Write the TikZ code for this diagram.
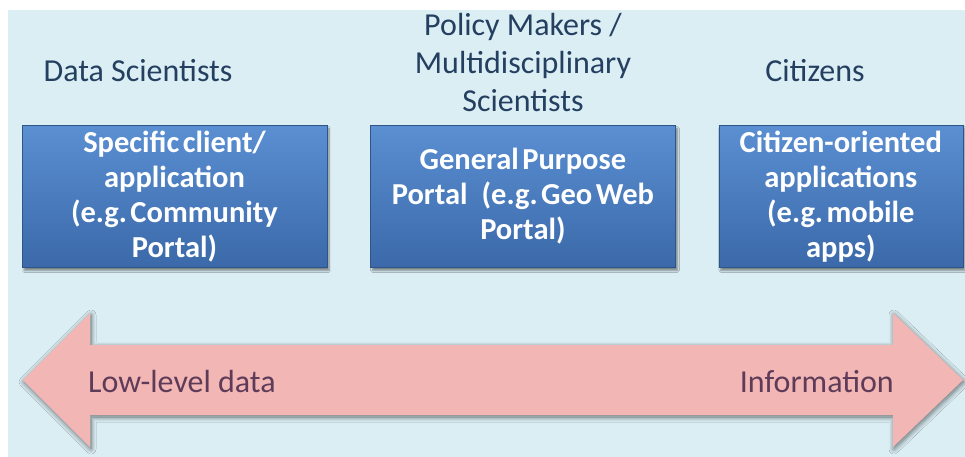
\documentclass[tikz,border=0pt]{standalone}
\usepackage{fontspec}
\setmainfont{Carlito}
\newfontfamily\portalfont[WordSpace=0.5]{Carlito}
\usetikzlibrary{positioning}
\usetikzlibrary{shadows.blur}

\definecolor{panelblue}{HTML}{DBEEF4}
\definecolor{boxtop}{HTML}{5A8FD2}
\definecolor{boxbottom}{HTML}{3B69A9}
\definecolor{arrowpink}{HTML}{F2B6B4}
\definecolor{labelblue}{HTML}{243F60}
\definecolor{arrowtext}{HTML}{5E3B58}

\begin{document}
\frenchspacing
\begin{tikzpicture}[
        x=1pt,
        y=-1pt,
        portal/.style={
            rectangle,
            top color=boxtop,
            bottom color=boxbottom,
            draw=boxbottom!80!black,
            thin,
            minimum width=305pt,
            minimum height=142pt,
            inner sep=0pt,
            align=center,
            text=white,
            font=\portalfont\fontsize{30.5}{35}\selectfont\bfseries,
            blur shadow={shadow xshift=2pt, shadow yshift=-3pt,
                shadow blur steps=8, shadow opacity=45},
        },
        audience/.style={
            text=labelblue,
            align=center,
            font=\fontsize{32}{38}\selectfont,
        },
        flowlabel/.style={
            text=arrowtext,
            inner sep=0pt,
            font=\fontsize{32}{38}\selectfont,
        },
        flowarrow/.style={
            fill=arrowpink,
            blur shadow={shadow xshift=1pt, shadow yshift=-2pt,
                shadow blur radius=5pt, shadow blur steps=10,
                shadow opacity=55},
        },
    ]
    \useasboundingbox (0, 0) rectangle (965, 457);
    \fill[white] (0, 0) rectangle (965, 457);
    \fill[panelblue] (8, 10) rectangle (965, 457);

    % Define the arrow outline.
    \coordinate (ltip) at (23, 380);
    \coordinate (rtip) at (963, 380);

    \coordinate (lhtop) at (90, 313);
    \coordinate (lhbot) at (90, 447);
    \coordinate (lstop) at (90, 345);
    \coordinate (lsbot) at (90, 415);

    \coordinate (rhtop) at (893, 313);
    \coordinate (rhbot) at (893, 447);
    \coordinate (rstop) at (893, 345);
    \coordinate (rsbot) at (893, 415);

    % Draw arrow.
    \path[flowarrow] (ltip) -- (lhtop) -- (lstop) -- (rstop) -- (rhtop)
        -- (rtip) -- (rhbot) -- (rsbot) -- (lsbot) -- (lhbot) -- cycle;

    \node[flowlabel, anchor=base west] (lowlevel) at (88, 392) {Low-level data};
    \node[flowlabel, anchor=base east] (info) at (894, 392) {Information};

    % Draw portals.
    \node[portal] (client) at (174.5, 196.5)
        {Specific client/\\application\\(e.g. Community\\Portal)};
    \node[portal, right=43pt of client] (general)
        {General Purpose\\Portal\hspace{0.35em} (e.g. Geo Web\\Portal)};
    \node[portal, minimum width=244pt, right=43pt of general] (citizen)
        {Citizen-oriented\\applications\\(e.g. mobile\\apps)};

    % Draw users.
    \node[audience, anchor=base] (datasci) at (138, 82) {Data Scientists};
    \node[audience] (policy) at (523, 63)
        {Policy Makers /\\Multidisciplinary\\Scientists};
    \node[audience, anchor=base] (citizens) at (815, 82) {Citizens};
\end{tikzpicture}
\end{document}
